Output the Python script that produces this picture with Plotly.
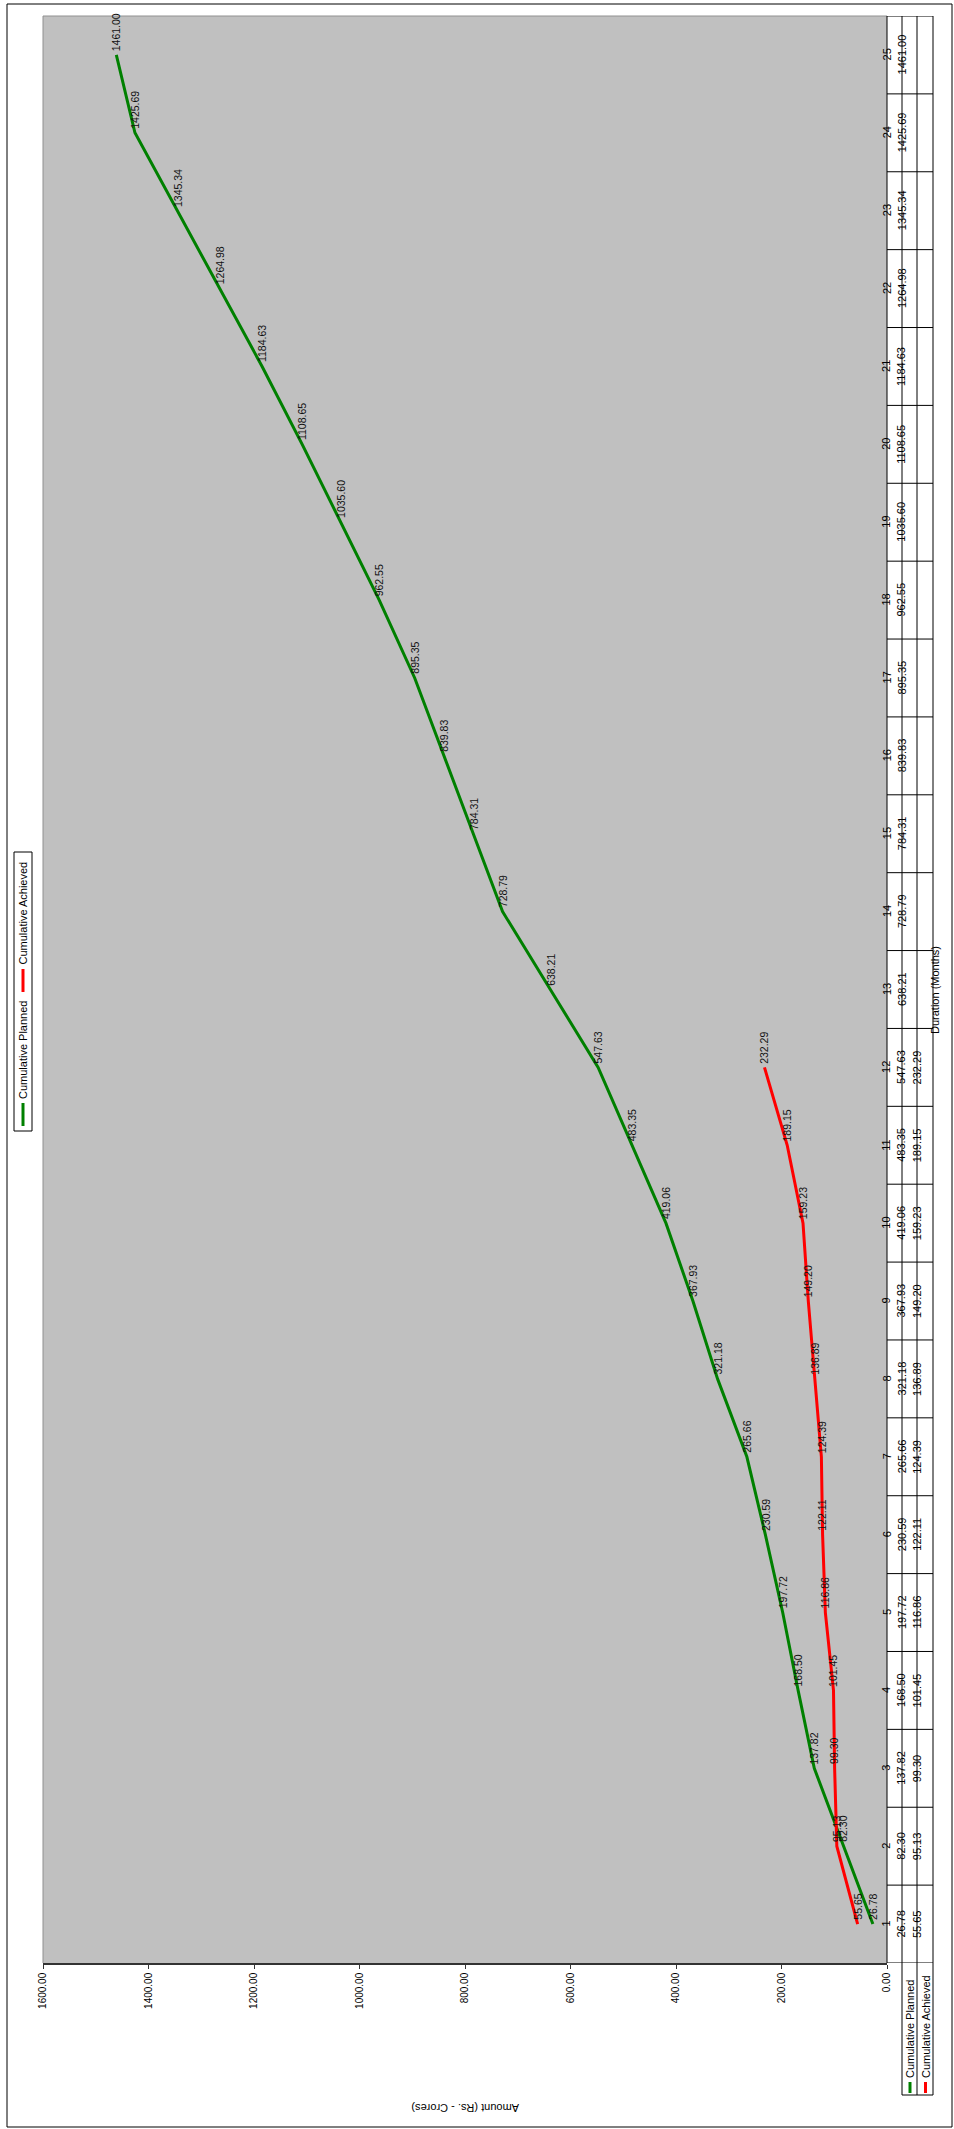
import plotly.graph_objects as go

# Data (chart is drawn rotated: months run bottom -> top, amount runs right -> left)
months = list(range(1, 26))
planned = [26.78, 82.30, 137.82, 168.50, 197.72, 230.59, 265.66, 321.18, 367.93,
           419.06, 483.35, 547.63, 638.21, 728.79, 784.31, 839.83, 895.35, 962.55,
           1035.60, 1108.65, 1184.63, 1264.98, 1345.34, 1425.69, 1461.00]
achieved = [55.65, 95.13, 99.30, 101.45, 116.86, 122.11, 124.39, 136.89, 149.20,
            159.23, 189.15, 232.29]
amount_ticks = [0, 200, 400, 600, 800, 1000, 1200, 1400, 1600]
series_names = ["Cumulative Planned", "Cumulative Achieved"]

GREEN = "#008000"
RED = "#FF0000"
FONT = "Liberation Sans, Arial, sans-serif"

W, H = 954, 2129
PL, PR, PT, PB = 43, 887, 16, 1963  # plot area in pixels


def px(x):
    return (x - PL) / (PR - PL)


def py(y):
    return (PB - y) / (PB - PT)


fig = go.Figure()

fig.add_trace(go.Scatter(x=planned, y=months[:len(planned)], mode='lines',
                         line=dict(color=GREEN, width=3), name=series_names[0]))
fig.add_trace(go.Scatter(x=achieved, y=months[:len(achieved)], mode='lines',
                         line=dict(color=RED, width=3), name=series_names[1]))

shapes = []
annotations = []

# data labels (rotated, above each point)
for vals in (planned, achieved):
    for m, v in zip(months, vals):
        annotations.append(dict(x=v, y=m, xref='x', yref='y', text=f"{v:.2f}",
                                textangle=-90, showarrow=False, xanchor='center',
                                yanchor='bottom', yshift=2,
                                font=dict(size=10.5, color='#111111', family=FONT)))

# plot border (gray left/top)
shapes.append(dict(type='line', xref='paper', yref='paper', x0=0, x1=0, y0=0, y1=1,
                   line=dict(color='#909090', width=1)))
shapes.append(dict(type='line', xref='paper', yref='paper', x0=0, x1=1, y0=1, y1=1,
                   line=dict(color='#909090', width=1)))

# data table on the right
black = dict(color='black', width=1)
shapes.append(dict(type='line', xref='paper', yref='paper', x0=px(887), x1=px(887),
                   y0=0, y1=1, line=black))
for cx in (902, 917, 933):
    shapes.append(dict(type='line', xref='paper', yref='paper', x0=px(cx), x1=px(cx),
                       y0=py(2095), y1=1, line=black))
for k in range(len(months) + 1):
    shapes.append(dict(type='line', xref='paper', yref='y', x0=px(887), x1=px(933),
                       y0=k + 0.5, y1=k + 0.5, line=black))
shapes.append(dict(type='line', xref='paper', yref='paper', x0=px(902), x1=px(933),
                   y0=py(2095), y1=py(2095), line=black))

tfont = dict(size=11, color='black', family=FONT)
for m in months:
    annotations.append(dict(x=px(894.5), y=m, xref='paper', yref='y', text=str(m),
                            textangle=-90, showarrow=False, font=tfont))
for m, v in zip(months, planned):
    annotations.append(dict(x=px(909.5), y=m, xref='paper', yref='y', text=f"{v:.2f}",
                            textangle=-90, showarrow=False, font=tfont))
for m, v in zip(months, achieved):
    annotations.append(dict(x=px(925), y=m, xref='paper', yref='y', text=f"{v:.2f}",
                            textangle=-90, showarrow=False, font=tfont))

# table row headers with legend keys
for cx, name, col in ((910, series_names[0], GREEN), (925.5, series_names[1], RED)):
    shapes.append(dict(type='line', xref='paper', yref='paper', x0=px(cx), x1=px(cx),
                       y0=py(2093), y1=py(2082), line=dict(color=col, width=3)))
    annotations.append(dict(x=px(cx), y=py(2080), xref='paper', yref='paper', text=name,
                            textangle=-90, showarrow=False, xanchor='center',
                            yanchor='bottom', font=tfont))

# legend box on the left
shapes.append(dict(type='rect', xref='paper', yref='paper', x0=px(14), x1=px(32),
                   y0=py(1131), y1=py(852), line=dict(color='black', width=1),
                   fillcolor='white'))
leg = [(series_names[0], GREEN, 1126, 1103), (series_names[1], RED, 992, 969)]
for name, col, k0, k1 in leg:
    shapes.append(dict(type='line', xref='paper', yref='paper', x0=px(23), x1=px(23),
                       y0=py(k0), y1=py(k1), line=dict(color=col, width=3)))
    annotations.append(dict(x=px(23), y=py(k1 - 2), xref='paper', yref='paper', text=name,
                            textangle=-90, showarrow=False, xanchor='center',
                            yanchor='bottom', font=tfont))

# axis titles
annotations.append(dict(x=px(465), y=py(2116), xref='paper', yref='paper',
                        text="Amount (Rs. - Crores)", textangle=180, showarrow=False,
                        font=tfont))
annotations.append(dict(x=px(943), y=py(990), xref='paper', yref='paper',
                        text="Duration (Months)", textangle=-90, showarrow=False,
                        font=tfont))

# outer chart border
shapes.append(dict(type='rect', xref='paper', yref='paper', x0=px(7), x1=px(952),
                   y0=py(2127), y1=py(4), line=dict(color='black', width=1),
                   layer='above'))

fig.update_layout(
    width=W, height=H,
    margin=dict(l=PL, r=W - PR, t=PT, b=H - PB, pad=0, autoexpand=False),
    plot_bgcolor='#C0C0C0',
    paper_bgcolor='white',
    showlegend=False,
    font=dict(family=FONT, size=10, color='black'),
    shapes=shapes,
    annotations=annotations,
)

fig.update_xaxes(
    range=[1600, 0],
    tickvals=amount_ticks,
    ticktext=[f"{v:.2f}" for v in amount_ticks],
    tickangle=-90,
    ticks='outside', ticklen=4, tickcolor='#333333',
    showline=True, linecolor='#333333', linewidth=1.5,
    showgrid=False, zeroline=False, automargin=False,
    tickfont=dict(size=10, family=FONT),
)
fig.update_yaxes(
    range=[0.5, 25.5], automargin=False,
    showticklabels=False, ticks='', showgrid=False, zeroline=False, showline=False,
)

# the page body has a default 8px margin; drop it so the figure sits at the origin
fig.write_html("out.html", config={'displayModeBar': False},
               post_script="document.body.style.margin='0';")
